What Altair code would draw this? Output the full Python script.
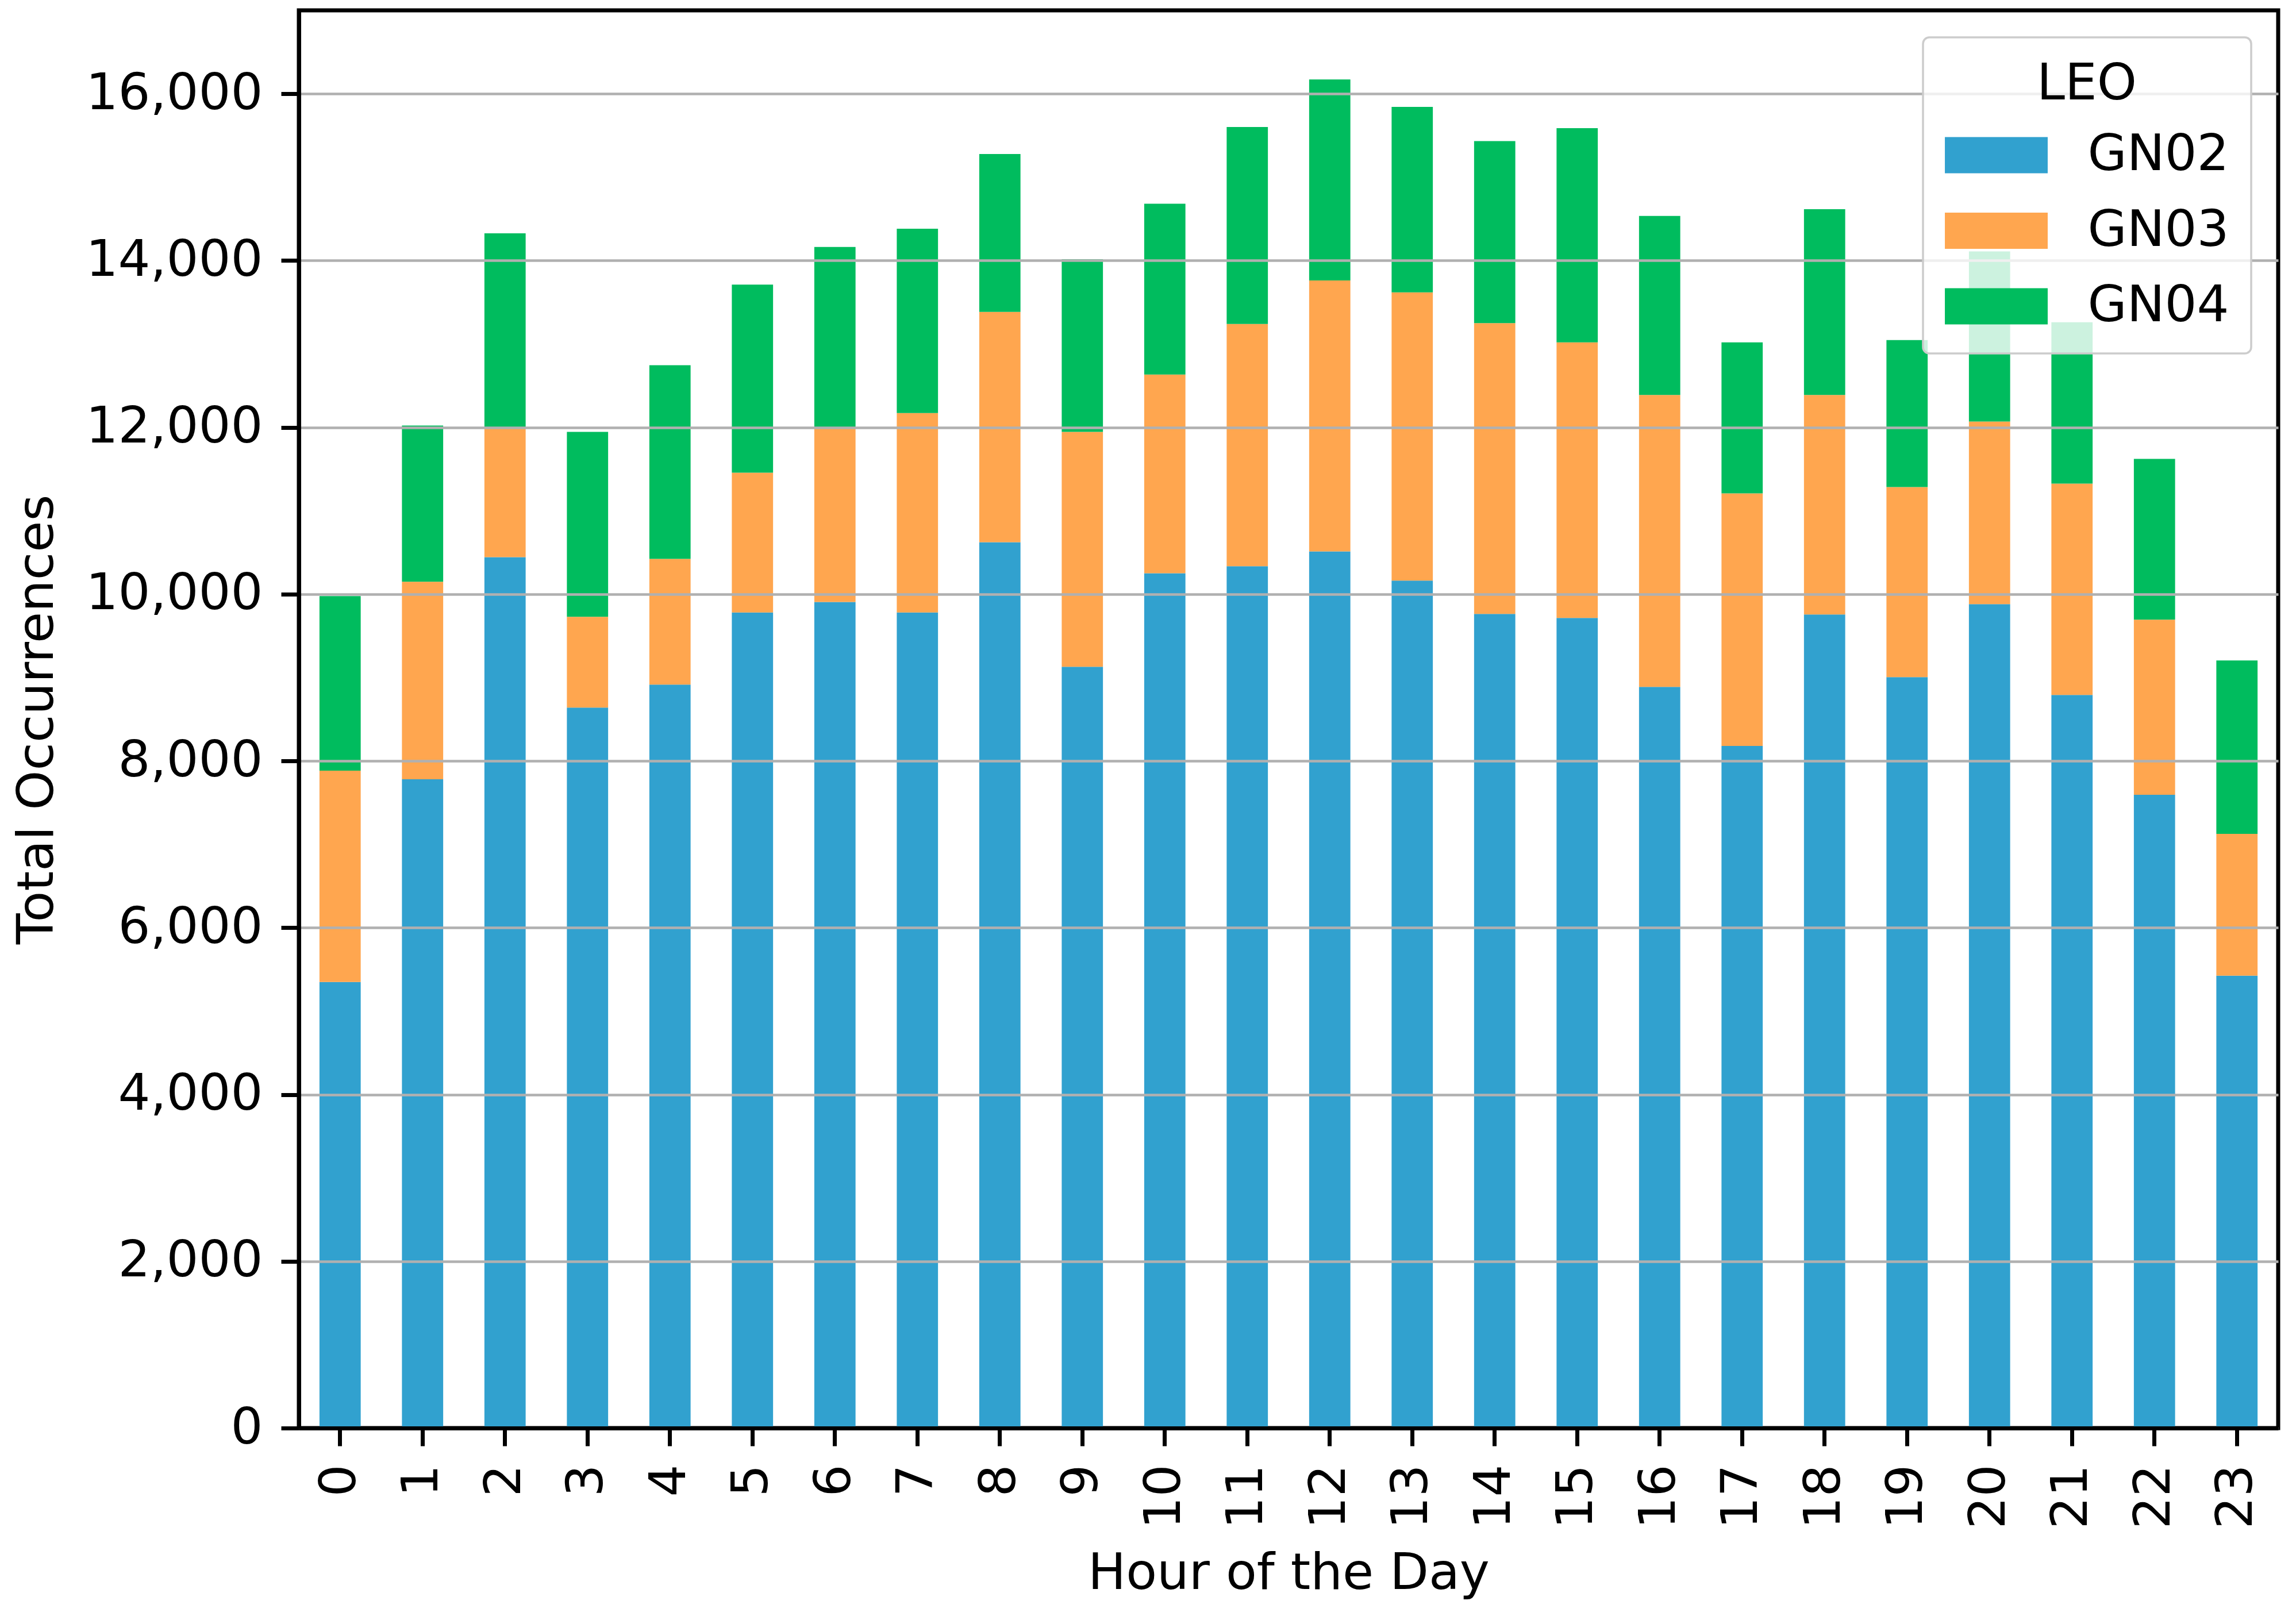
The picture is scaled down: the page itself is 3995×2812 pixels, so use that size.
import altair as alt
import pandas as pd

hours = list(range(24))
series = ["GN02", "GN03", "GN04"]
colors = ["#31A1CF", "#FFA64F", "#00BC5E"]

gn02 = [5349, 7780, 10444, 8640, 8916, 9780, 9905, 9780, 10623, 9129, 10251, 10334,
        10513, 10162, 9763, 9714, 8888, 8179, 9756, 9005, 9880, 8792, 7594, 5425]
gn03 = [2534, 2368, 1556, 1088, 1507, 1676, 2095, 2392, 2761, 2816, 2382, 2905,
        3249, 3456, 3486, 3305, 3501, 3029, 2633, 2279, 2189, 2533, 2100, 1701]
gn04 = [2093, 1873, 2327, 2217, 2321, 2255, 2162, 2210, 1893, 2072, 2049, 2362,
        2410, 2224, 2183, 2568, 2145, 1811, 2227, 1763, 2041, 1935, 1927, 2079]

y_ticks = [0, 2000, 4000, 6000, 8000, 10000, 12000, 14000, 16000]

rows = []
for i, name in enumerate(series):
    vals = [gn02, gn03, gn04][i]
    for h, v in zip(hours, vals):
        rows.append({"hour": h, "LEO": name, "count": v, "idx": i})
df = pd.DataFrame(rows)

FS = 88
FONT = "DejaVu Sans"
W, H = 3444, 2467

chart = alt.Chart(df).mark_bar().encode(
    x=alt.X("hour:O", sort=hours,
            scale=alt.Scale(paddingInner=0.5, paddingOuter=0.25),
            axis=alt.Axis(title="Hour of the Day", labelAngle=270, grid=False,
                          labelPadding=32, titlePadding=35, zindex=1)),
    y=alt.Y("count:Q", stack="zero",
            scale=alt.Scale(domain=[0, 17000], nice=False),
            axis=alt.Axis(title="Total Occurrences", values=y_ticks, format=",d",
                          grid=True, labelPadding=32, zindex=1,
                          titleX=-429, titleY=H / 2, titleAngle=270,
                          titleAlign="center", titleBaseline="alphabetic")),
    color=alt.Color("LEO:N", scale=alt.Scale(domain=series, range=colors),
                    legend=alt.Legend(title="LEO", orient="top-right", offset=47,
                                      symbolType="M-2.84,-1H2.84V1H-2.84Z",
                                      symbolSize=3969, symbolOffset=45.5,
                                      symbolStrokeWidth=0,
                                      labelOffset=115, rowPadding=43.5,
                                      titlePadding=35, padding=38,
                                      labelLimit=0, titleLimit=0,
                                      fillColor="rgba(255,255,255,0.8)",
                                      strokeColor="#cccccc", cornerRadius=11,
                                      titleAnchor="middle", titleAlign="center",
                                      titleFontSize=FS, labelFontSize=FS,
                                      titleFontWeight="normal", titleFont=FONT,
                                      labelFont=FONT, titleColor="black",
                                      labelColor="black", zindex=2)),
    order=alt.Order("idx:Q", sort="ascending"),
).properties(
    width=W, height=H,
    autosize=alt.AutoSizeParams(type="none"),
    padding={"left": 512, "top": 10, "right": 20, "bottom": 300},
).configure_view(
    stroke="black", strokeWidth=7
).configure_axis(
    labelFont=FONT, titleFont=FONT, labelFontSize=FS, titleFontSize=FS,
    labelColor="black", titleColor="black", titleFontWeight="normal",
    tickColor="black", domainColor="black", tickWidth=7, domainWidth=7,
    tickSize=31, gridColor="#b0b0b0", gridWidth=4.4, labelLimit=0, titleLimit=0
).configure_legend(
    strokeWidth=3.5
)

chart.save("out.html", embed_options={"renderer": "svg", "actions": False})
